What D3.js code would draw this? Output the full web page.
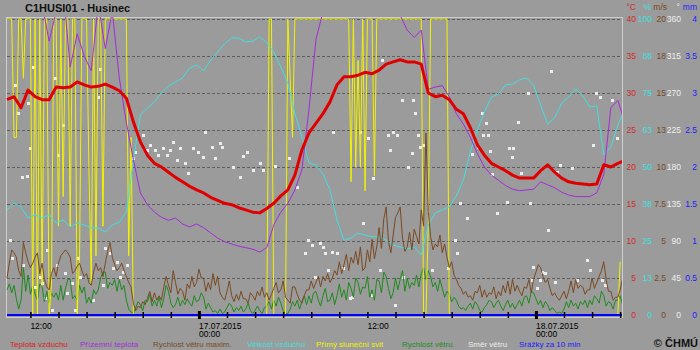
<!DOCTYPE html>
<html><head><meta charset="utf-8">
<script src="https://cdn.jsdelivr.net/npm/d3@7"></script>
<style>
body{margin:0;background:#9b9b9b;}
svg{display:block;font-family:"Liberation Sans",Arial,sans-serif;}
</style>
</head><body>
<svg id="c" width="700" height="350"></svg>
<script>
// ---- time base: hours since 16.07.2015 00:00 ----
const startHour = 10 + 20/60;      // first sample 16.07.2015 10:20
const endHour = 54.13;             // right edge of plot (18.07.2015 ~06:08)
const stepHours = 0.5;             // 30-min samples
const tenMinHours = 1/6;           // 10-min samples

// ---- series (30-min samples) ----
const airTemp = [29.1,29.5,28.0,30.4,29.5,29.1,29.1,30.8,30.7,30.8, 31.5,31.1,30.8,30.9,31.2,30.8,30.3,29.3,26.1,23.4,
 21.6,20.5,20.0,19.3,18.6,18.0,17.4,16.9,16.5,15.9, 15.5,15.1,14.9,14.5,14.2,13.9,13.8,14.4,15.1,16.1,
 16.9,18.9,22.3,24.6,25.9,27.2,28.8,31.1,32.2,32.2, 32.4,32.8,32.6,33.1,33.9,34.2,34.5,34.2,34.2,33.9,
 30.0,29.5,29.7,29.1,27.8,27.2,25.3,23.0,21.6,20.5, 20.0,19.5,18.9,18.5,18.5,18.5,19.5,20.3,19.3,18.5,
 18.0,17.8,17.7,17.6,17.7,20.3,20.0,20.5,20.9];
const groundTemp = [44,45,43,46,45,42,37,41,44,33.5, 38,35,33,42,36,41,32,26,21,16.5,
 14.9,13.9,13.2,12.8,13.1,12.3,11.9,12.3,11.8,11.1, 10.4,9.9,9.6,9.3,9.1,8.9,8.5,9.1,12.2,13.9,
 15.1,16.9,19.6,27.7,37.2,41,45,48,50,52, 53,54,53,52,50,47,40.5,38.5,37.5,38.5,
 30.5,30.8,31.0,29.5,27.2,25.8,24.0,21.8,20.0,18.9, 18.2,17.5,17.0,16.8,16.9,17.0,18.0,17.6,17.2,16.6,
 16.2,16.0,16.0,16.0,16.5,19,28,29,26];
const humidity = [35.5,37.8,36.5,32.8,33.8,32.8,33.8,31.1,32.1,29.7, 31.1,30.4,29.4,29.4,28.0,30.4,31.4,34.8,52.4,67.6,
 69.9,72.0,75.0,77.4,78.7,80.1,83.4,84.5,82.5,86.1, 88.9,91.6,93.6,93.6,92.2,92.5,94.0,92.0,88.9,83.8,
 78.4,68.2,60.1,51.4,50.7,47.6,42.2,32.1,25.3,26.0, 27.7,27.0,26.4,26.4,25.3,23.6,23.0,22.3,23.0,20.3,
 30.4,34.5,35.5,36.5,40.2,45.6,55.1,62.5,68.6,73.6, 74.7,77.7,78.0,79.4,80.1,77.7,70.9,64.5,66.6,71.6,
 73.6,76.4,74.0,70.3,70.6,54.1,56.8,64.2,69.3];
const rain = [0,0,0,0,0,0,0,0,0,0, 0,0,0,0,0,0,0,0,0,0, 0,0,0,0,0,0,0,0,0,0, 0,0,0,0,0,0,0,0,0,0,
 0,0,0,0,0,0,0,0,0,0, 0,0,0,0,0,0,0,0,0,0, 0,0,0,0,0,0,0,0,0,0, 0,0,0,0,0,0,0,0,0,0, 0,0,0,0,0,0,0,0,0];

// ---- 10-min series ----
const wind = [1.7,2.1,1.5, 2.0,1.1,0.4, 1.0,3.2,1.6, 2.7,1.4,2.0, 1.4,1.0,2.1, 1.9,0.9,1.6, 0.8,1.5,1.2, 1.5,1.0,2.0,
 1.0,1.8,2.4, 2.4,1.1,1.3, 1.0,2.0,1.5, 1.9,0.8,1.2, 0.8,1.7,1.4, 1.7,2.5,2.9, 2.9,1.8,2.2, 2.0,2.4,1.6,
 2.4,1.7,2.0, 1.0,0.4,0.2, 0.1,0.5,0.9, 0.7,0.3,1.0, 0.9,1.4,0.6, 1.0,0.6,1.2, 0.5,1.1,2.0, 1.6,0.8,0.5,
 0.7,1.2,0.6, 1.0,0.7,1.1, 0.8,0.6,1.3, 0.9,1.0,1.5, 1.2,0.4,0.8, 0.5,0.2,0.3, 0.1,0.4,0.1, 0.2,0.5,0.8,
 0.6,0.2,0.5, 0.3,0.6,0.2, 0.4,0.8,0.3, 0.1,0.3,0.6, 0.3,0.1,0.5, 0.6,0.9,0.4, 1.0,0.6,1.2, 0.8,0.3,0.1,
 0.1,0.4,0.9, 0.6,1.0,0.4, 0.9,1.3,0.7, 1.3,0.8,1.5, 1.6,1.0,0.6, 1.3,1.8,0.9, 1.0,1.5,0.7, 1.3,2.1,1.2,
 1.7,1.0,2.2, 1.8,1.2,2.5, 2.2,1.4,1.9, 1.8,2.6,1.2, 1.7,1.0,2.4, 2.3,1.5,2.9, 2.6,1.8,1.1, 1.5,2.5,1.7,
 2.4,3.0,1.6, 2.5,1.8,2.2, 2.0,2.7,1.9, 2.8,3.2,2.4, 3.0,2.6,1.9, 2.2,1.6,2.4, 1.8,1.2,1.6, 1.4,0.9,1.2,
 1.0,0.6,0.4, 0.5,0.3,0.6, 0.8,0.4,0.9, 0.7,0.3,0.2, 0.5,0.7,1.0, 0.9,0.5,0.8, 1.0,0.6,0.3, 0.7,1.0,0.5,
 0.8,0.4,0.7, 1.0,0.6,1.2, 1.3,0.8,1.6, 1.5,1.1,0.7, 1.0,0.5,0.9, 0.7,0.3,0.5, 0.3,0.1,0.2, 0.1,0.4,0.9,
 0.5,1.0,0.6, 0.8,0.4,0.9, 0.7,1.0,0.5, 1.0,0.7,1.3, 1.1,0.8,1.6, 1.3,0.6,0.9, 0.8,0.4,1.0, 1.0,1.3,0.7];
const gust = [2.5,3.5,4.4, 4.2,3.9,3.0, 2.6,4.9,4.2, 3.6,3.2,3.5, 3.9,4.2,2.8, 3.5,2.4,1.9, 1.7,2.8,3.2, 2.6,3.5,4.0,
 4.2,4.4,4.2, 3.9,2.8,3.0, 3.3,3.5,3.0, 2.6,2.8,2.2, 2.0,2.9,3.5, 3.0,3.2,2.6, 3.5,4.3,4.9, 3.9,3.4,3.0,
 3.2,3.5,3.0, 2.6,2.2,1.9, 0.8,0.3,0.6, 0.5,0.9,0.7, 1.1,1.6,0.9, 1.5,1.0,1.3, 1.0,1.9,2.6, 2.0,1.5,3.0,
 2.2,1.4,1.8, 1.6,1.0,2.1, 1.8,2.6,1.9, 2.2,3.1,2.5, 2.5,1.6,2.2, 1.7,2.8,2.0, 2.6,1.5,1.2, 1.0,1.6,2.3,
 1.3,0.9,1.4, 1.0,1.6,1.1, 1.1,0.8,1.5, 1.3,1.0,1.6, 1.3,1.9,1.2, 1.5,1.0,1.4, 1.8,2.2,1.5, 1.7,2.3,1.2,
 1.0,0.8,1.9, 1.9,1.4,1.0, 0.8,1.3,1.7, 1.7,2.3,1.8, 2.2,2.6,1.9, 2.6,2.3,2.8, 2.2,2.5,3.0, 2.7,3.6,2.8,
 3.4,4.1,3.0, 3.9,3.5,4.3, 3.4,4.6,3.0, 3.2,4.4,3.6, 5.1,3.8,4.6, 5.9,4.5,6.5, 7.3,5.0,4.2, 5.4,6.6,6.9,
 7.3,5.2,4.3, 4.6,5.6,4.4, 5.8,5.3,4.8, 7.1,6.0,12.3, 7.0,5.3,4.4, 4.8,4.6,5.4, 4.2,4.8,3.9, 3.2,3.6,2.7,
 2.4,2.0,1.8, 1.4,1.6,1.2, 1.3,1.0,1.6, 1.5,2.0,1.2, 1.7,1.2,1.5, 1.4,1.9,1.1, 1.6,1.3,2.0, 1.5,2.3,1.4,
 2.4,1.6,2.0, 1.6,1.3,1.9, 1.8,2.4,1.5, 2.4,2.9,3.4, 3.2,2.6,2.2, 2.4,1.8,1.3, 1.5,1.2,1.0, 1.3,1.6,1.1,
 1.6,2.3,1.5, 2.4,1.8,2.0, 1.9,1.4,1.7, 1.7,2.5,1.8, 2.2,2.6,3.0, 3.6,2.4,1.6, 1.6,1.0,1.2, 1.2,1.7,2.4];
// sunshine, minutes per 10 min
const sunshine = [10,10,10,6,6,10,10,8,10,10, 10,0,10,0,10,1,10,10,0,1, 10,10,3,10,4,10,10,3,10,10,
 0,2,10,10,10,5,1,10,2,10, 10,3,10,10,10,10,10,10,10,10, 10,10,2,6,0,
 0,0,0,0,0,0,0,0,0,0, 0,0,0,0,0,0,0,0,0,0, 0,0,0,0,0,0,0,0,0,0, 0,0,0,0,0,0,0,0,0,0, 0,0,0,0,0,0,0,0,0,0, 0,0,0,0,0,0,
 0,10,10,0,0,0,0,0,0,10,8,6,10,
 10,10,10,10,10,10,10,10,10,10, 10,10,10,10,10,10,10,10,10,10, 10,10,
 10,4.5,10,5,8.6,5,10,4.2,10,10,10,4.7,10,
 10,10,10,10,10,10,10,10,10,10, 10,10,10,10,10,10,10,10,10,
 0,0,3,10,10,10,10,10,10,10,10,0,
 0,0,0,0,0,0,0,0,0,0, 0,0,0,0,0,0,0,0,0,0, 0,0,0,0,0,0,0,0,0,0, 0,0,0,0,0,0,0,0,0,0, 0,0,0,0,0,0,0,0,0,0, 0,0,0,0,0,0,0,0,0,0, 0,0,0,0,0,0,0,0,0,0, 0,0,
 1.8];

// ---- wind direction dots: hour since 16.07 00:00, degrees ----
const dirHours = [10.55,10.9,11.11,11.4,11.75,11.83,11.97,12.18,10.69,11.47, 12.32,12.68,12.82,13.04,13.18,13.54,13.75,13.89,13.96,14.32,
 14.46,14.6,14.96,15.17,15.39,15.53,16.46,16.81,16.95,17.17, 17.31,17.67,17.88,18.16,18.38,18.59,18.88,
 19.3,19.45,20.02,20.3,20.5,20.87,21.08,21.44,21.73,21.94, 22.15,22.44,22.65,23.0,23.22,23.57,23.93,24.29,24.43,24.93,
 25.14,25.5,25.64,26.42,26.92,27.14,27.42,27.85,28.35,28.56, 29.41,30.41,30.98,31.55,31.77,32.05,32.27,32.62,32.84,32.98,
 33.19,33.48,33.55,33.83,34.26,34.76,34.9,35.47,35.68,36.04, 36.33,36.4,36.9,37.04,37.47,37.61,37.82,37.96,38.1,38.46,
 38.54,38.89,39.17,39.25,39.39,39.6,39.75,39.96,40.6,41.74, 42.24,42.38,42.59,43.09,43.45,43.87,44.16,44.44,44.23,44.59,
 44.73,44.87,45.23,45.94,46.09,46.37,46.3,46.73,46.94,47.44, 47.58,47.72,47.79,48.08,48.29,48.43,48.65,48.86,49.08,49.36,
 49.5,49.72,50.57,50.93,51.64,51.85,52.07,52.28,52.57,52.71, 52.92,53.42,53.78];
const dirDegrees = [91,280,246,168,169,258,203,302,69,61, 34,46,39,21,79,6,288,61,195,231,
 51,27,39,6,69,46,18,265,299,36, 81,75,57,64,46,52,61,
 191,198,219,201,207,201,195,203,195,201, 210,188,203,185,173,203,198,192,223,204,
 191,209,204,180,168,193,198,176,185,176, 181,191,156,75,91,85,46,88,83,75,
 55,77,223,75,57,21,22,223,112,215, 24,167,55,310,219,201,223,12,219,261,
 46,180,197,261,246,219,204,207,55,57, 91,75,136,118,196,204,246,233,219,219,
 199,171,124,137,203,203,192,235,173,270, 136,43,58,33,43,52,51,103,297,40,
 174,182,179,43,67,55,207,270,265,43, 36,261,215];

// ---- axis labels ----
const tempTicks = [0,5,10,15,20,25,30,35,40];
const humLabels = ["0","13","25","38","50","63","75","88","100"];
const windLabels = ["0","2.5","5","7.5","10","13","15","18","20"];
const dirLabels = ["0","45","90","135","180","225","270","315","360"];
const rainLabels = ["0","0.5","1","1.5","2","2.5","3","3.5","4"];
const xTickHours = [12,14,16,18,20,22,24,26,28,30,32,34,36,38,40,42,44,46,48,50,52,54];
const xLabels = [{h:12, l1:"12:00", l2:""},{h:24, l1:"17.07.2015", l2:"00:00"},{h:36, l1:"12:00", l2:""},{h:48, l1:"18.07.2015", l2:"00:00"}];
const legendItems = [
 {t:"Teplota vzduchu", c:"#e01818", x:10},
 {t:"Přízemní teplota", c:"#a32cd9", x:80},
 {t:"Rychlost větru maxim.", c:"#7a4a22", x:153},
 {t:"Vlhkost vzduchu", c:"#40e0e0", x:247},
 {t:"Přímý sluneční svit", c:"#f2f200", x:316},
 {t:"Rychlost větru", c:"#1f8a1f", x:402},
 {t:"Směr větru", c:"#eeeeee", x:468},
 {t:"Srážky za 10 min", c:"#1a1aff", x:519}
];

const svg = d3.select("#c");
const L=7, R=622, T=19, B=315;
const x = d3.scaleLinear().domain([startHour, endHour]).range([L, R]);
const yT = d3.scaleLinear().domain([0,40]).range([B,T]);
const yH = d3.scaleLinear().domain([0,100]).range([B,T]);
const yW = d3.scaleLinear().domain([0,20]).range([B,T]);
const yD = d3.scaleLinear().domain([0,360]).range([B,T]);
const yR = d3.scaleLinear().domain([0,4]).range([B,T]);
const yS = d3.scaleLinear().domain([0,10]).range([B,T]);

svg.append("defs").append("clipPath").attr("id","pc")
  .append("rect").attr("x",6).attr("y",17).attr("width",616).attr("height",300);

// title
svg.append("text").attr("x",25).attr("y",12).attr("font-size",11).attr("font-weight","bold")
  .attr("fill","#111").text("C1HUSI01 - Husinec");

// frame
svg.append("rect").attr("x",6.5).attr("y",17.5).attr("width",616).attr("height",300)
  .attr("fill","none").attr("stroke","#cfcfcf");

// grid
svg.append("g").selectAll("line").data(tempTicks.filter(d=>d>0)).join("line")
  .attr("x1",L).attr("x2",R).attr("y1",d=>Math.round(yT(d))+0.5).attr("y2",d=>Math.round(yT(d))+0.5)
  .attr("stroke","#5e5e5e").attr("stroke-dasharray","3,2");

const plot = svg.append("g").attr("clip-path","url(#pc)");
const lineOf = (arr, ys, step) => d3.line().x((d,i)=>x(startHour+i*step)).y(d=>ys(d))(arr);

// wind direction dots
plot.append("g").selectAll("rect").data(dirHours).join("rect")
  .attr("x",(d)=>Math.round(x(d))-1).attr("y",(d,i)=>Math.round(yD(dirDegrees[i]))-1)
  .attr("width",3).attr("height",3).attr("fill","#ececec");

const path = (d, c, w) => plot.append("path").attr("d",d).attr("fill","none")
  .attr("stroke",c).attr("stroke-width",w).attr("stroke-linejoin","round");

path(lineOf(wind, yW, tenMinHours), "#1f8a1f", 1);
path(lineOf(sunshine, yS, tenMinHours), "#f2f200", 1);
path(lineOf(humidity, yH, stepHours), "#40e0e0", 1);
path(lineOf(gust, yW, tenMinHours), "#7a4a22", 1);
path(lineOf(groundTemp, yT, stepHours), "#a32cd9", 1);
path(lineOf(airTemp, yT, stepHours), "#e00000", 3);
path(lineOf(rain, yR, stepHours), "#0000ff", 2);

// x axis ticks
const xAxis = d3.axisBottom(x).tickValues(xTickHours).tickSize(6).tickFormat("");
const gx = svg.append("g").attr("transform","translate(0,312)").call(xAxis);
gx.select(".domain").remove();
gx.selectAll(".tick line").attr("stroke","#000")
  .attr("stroke-width",d=>d%24===0?3:1.5)
  .attr("y1",d=>d%24===0?-1:0).attr("y2",d=>d%24===0?7:6);

const xl = svg.append("g").attr("font-size",8.5).attr("fill","#000");
xl.selectAll("text.l1").data(xLabels).join("text").attr("class","l1")
  .attr("x",d=>x(d.h)).attr("y",328.5).text(d=>d.l1);
xl.selectAll("text.l2").data(xLabels.filter(d=>d.l2)).join("text").attr("class","l2")
  .attr("x",d=>x(d.h)).attr("y",337).text(d=>d.l2);

// right axes
function rightAxis(scale, vals, labels, xpos, color){
  const ax = d3.axisRight(scale).tickValues(vals).tickSize(0).tickPadding(0)
    .tickFormat((d,i)=>labels[i]);
  const g = svg.append("g").attr("transform",`translate(${xpos},0)`).call(ax);
  g.select(".domain").remove();
  g.selectAll("text").attr("fill",color).attr("font-size",8.5)
    .attr("font-family","Liberation Sans, Arial, sans-serif").attr("text-anchor","end");
}
rightAxis(yT, tempTicks, tempTicks.map(String), 636, "#d42a2a");
rightAxis(yH, [0,12.5,25,37.5,50,62.5,75,87.5,100], humLabels, 652, "#40e0e0");
rightAxis(yW, [0,2.5,5,7.5,10,12.5,15,17.5,20], windLabels, 666, "#7a4a22");
rightAxis(yD, [0,45,90,135,180,225,270,315,360], dirLabels, 681, "#eeeeee");
rightAxis(yR, [0,0.5,1,1.5,2,2.5,3,3.5,4], rainLabels, 697, "#2020ff");

const units = [{t:"°C",c:"#d42a2a",x:636},{t:"%",c:"#40e0e0",x:651},{t:"m/s",c:"#7a4a22",x:667},
  {t:"°",c:"#eeeeee",x:680},{t:"mm",c:"#2020ff",x:697}];
svg.append("g").selectAll("text").data(units).join("text")
  .attr("x",d=>d.x).attr("y",10).attr("text-anchor","end").attr("font-size",8.5)
  .attr("fill",d=>d.c).text(d=>d.t);

// legend
svg.append("g").selectAll("text").data(legendItems).join("text")
  .attr("x",d=>d.x).attr("y",346.5).attr("font-size",8).attr("fill",d=>d.c).text(d=>d.t);

svg.append("text").attr("x",698).attr("y",347).attr("text-anchor","end")
  .attr("font-size",11).attr("font-weight","bold").attr("fill","#111").text("© ČHMÚ");
</script>
</body></html>
